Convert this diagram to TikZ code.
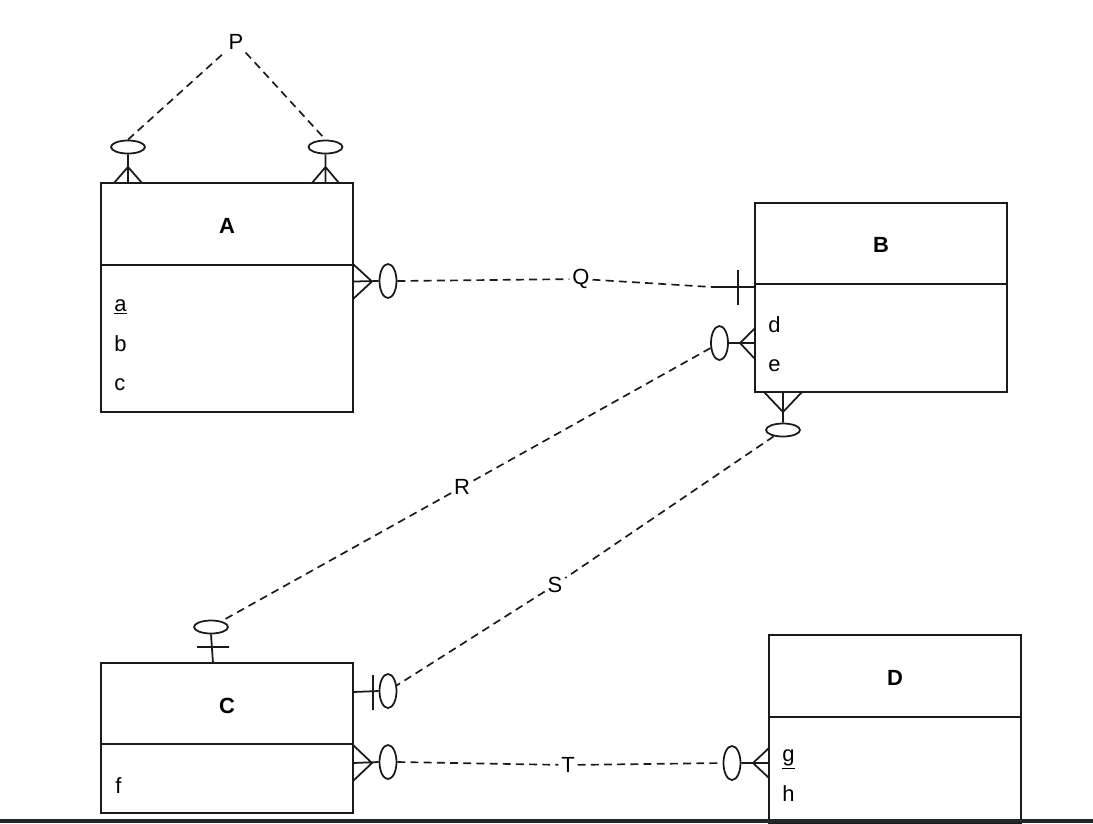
\documentclass[tikz,border=0pt]{standalone}
\usepackage{fontspec}
\setmainfont{Liberation Sans}
\usetikzlibrary{shapes.geometric,calc}
\definecolor{ERLine}{HTML}{1A1A1A}
\definecolor{ERBar}{HTML}{23272C}

\begin{document}
\begin{tikzpicture}[x=0.02cm, y=-0.02cm,
  ent/.style={draw=ERLine, line width=1.2pt, minimum width=5.04cm,
              minimum height=#1, inner sep=0pt},
  ttl/.style={font=\fontsize{12.5}{15}\selectfont\bfseries},
  att/.style={font=\fontsize{12.5}{15}\selectfont, anchor=base west,
              inner sep=0pt},
  rel/.style={font=\fontsize{12.5}{15}\selectfont, inner sep=1.5pt},
  conn/.style={dash pattern=on 4.5pt off 3pt, line width=0.95pt, color=ERLine},
  foot/.style={line width=1pt, color=ERLine},
  ovalv/.style={ellipse, draw=ERLine, line width=1pt, inner sep=0pt,
                minimum width=0.34cm, minimum height=0.68cm},
  ovalh/.style={ellipse, draw=ERLine, line width=1pt, inner sep=0pt,
                minimum width=0.68cm, minimum height=0.26cm}
]
\useasboundingbox (0,0) rectangle (1093,823);

% Entity A
\node[ent=4.58cm] (A) at (227,297.5) {};
\draw[foot, line width=1.2pt] ($(A.north west)+(0,83)$) -- ($(A.north east)+(0,83)$);
\node[ttl] (Attl) at (227,226) {A};
\node[att] (Aa) at (114,311) {\underline{a}};
\node[att] (Ab) at (114,351) {b};
\node[att] (Ac) at (114,390) {c};

% Entity B
\node[ent=3.78cm] (B) at (881,297.5) {};
\draw[foot, line width=1.2pt] ($(B.north west)+(0,82)$) -- ($(B.north east)+(0,82)$);
\node[ttl] (Bttl) at (881,245) {B};
\node[att] (Bd) at (768,332) {d};
\node[att] (Be) at (768,371) {e};

% Entity C
\node[ent=3cm] (C) at (227,738) {};
\draw[foot, line width=1.2pt] ($(C.north west)+(0,82)$) -- ($(C.north east)+(0,82)$);
\node[ttl] (Cttl) at (227,706) {C};
\node[att] (Cf) at (115,793) {f};

% Entity D
\node[ent=3.76cm] (D) at (895,729) {};
\draw[foot, line width=1.2pt] ($(D.north west)+(0,83)$) -- ($(D.north east)+(0,83)$);
\node[ttl] (Dttl) at (895,678) {D};
\node[att] (Dg) at (782,761) {\underline{g}};
\node[att] (Dh) at (782,801) {h};

% Relationship P (A to A)
\node[ovalh] (pa1) at (128,147) {};
\node[ovalh] (pa2) at (325.5,147) {};
\draw[foot] (114,183) -- (128,167) -- (142,183) (128,183) -- (pa1.south);
\draw[foot] (312,183) -- (325.5,167) -- (339,183) (325.5,183) -- (pa2.south);
\node[rel] (P) at (236,42) {P};
\draw[conn] (pa1.north) -- (P) -- (pa2.north);

% Relationship Q (A to B)
\node[ovalv] (qa) at (388,281) {};
\draw[foot] (353,264) -- (372,281.5) -- (353,299) (353,281.5) -- (qa.west);
\coordinate (qb) at (712,287);
\draw[foot] (qb) -- (755,287) (738,270) -- (738,305);
\node[rel] (Q) at (581,279) {Q};
\draw[conn] (qa.east) -- (Q) -- (qb);

% Relationship R (B to C)
\node[ovalv] (rb) at (719.5,343) {};
\draw[foot] (755,328) -- (740,343) -- (755,359) (755,343) -- (rb.east);
\node[ovalh] (rc) at (211,627) {};
\draw[foot] (213,663) -- (rc.south) (197,647) -- (229,647);
\node[rel] (R) at (462,487) {R};
\draw[conn] (rb) -- (R) -- (rc);

% Relationship S (B to C)
\node[ovalh] (sb) at (783,430) {};
\draw[foot] (764,392) -- (783,412) -- (802,392) (783,392) -- (sb.north);
\node[ovalv] (sc) at (388,691) {};
\draw[foot] (353,692) -- (sc.west) (373,675) -- (373,710);
\node[rel] (S) at (555,585) {S};
\draw[conn] (sb) -- (S) -- (sc);

% Relationship T (C to D)
\node[ovalv] (tc) at (388,762) {};
\draw[foot] (353,745) -- (372,763) -- (353,781) (353,763) -- (tc.west);
\node[ovalv] (td) at (732,763) {};
\draw[foot] (769,748) -- (753,763) -- (769,778) (769,763) -- (td.east);
\node[rel] (T) at (568,765) {T};
\draw[conn] (tc.east) -- (T) -- (td.west);

% bottom edge
\fill[ERBar] (0,818.5) rectangle (1093,823);

\end{tikzpicture}
\end{document}
